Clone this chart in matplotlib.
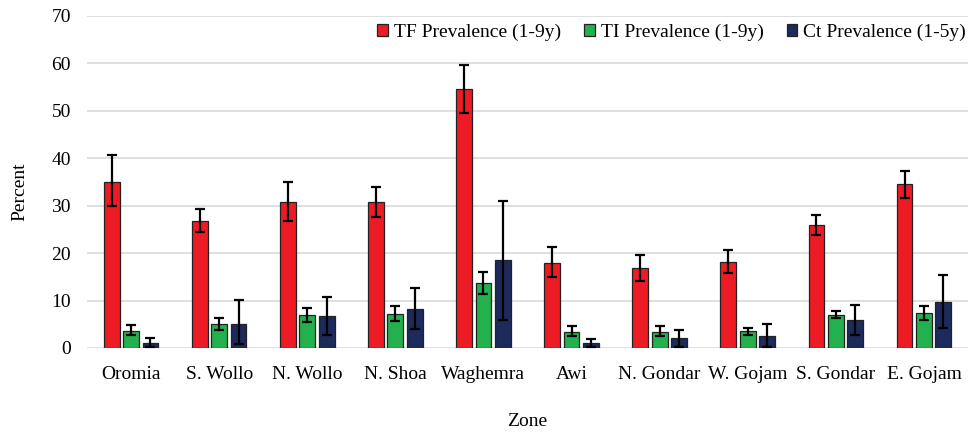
import matplotlib.pyplot as plt
import numpy as np

zones = ["Oromia", "S. Wollo", "N. Wollo", "N. Shoa", "Waghemra",
         "Awi", "N. Gondar", "W. Gojam", "S. Gondar", "E. Gojam"]
series = ["TF Prevalence (1-9y)", "TI Prevalence (1-9y)", "Ct Prevalence (1-5y)"]

tf = [35.0, 26.8, 30.8, 30.7, 54.7, 17.9, 16.8, 18.1, 25.9, 34.5]
tf_lo = [30.0, 24.5, 26.8, 27.6, 49.6, 14.9, 14.2, 15.9, 23.9, 31.6]
tf_hi = [40.6, 29.3, 35.1, 34.0, 59.6, 21.3, 19.7, 20.7, 28.1, 37.4]

ti = [3.65, 5.0, 6.95, 7.2, 13.7, 3.4, 3.4, 3.5, 7.0, 7.4]
ti_lo = [2.8, 3.9, 5.5, 5.6, 11.4, 2.5, 2.5, 2.8, 6.3, 6.0]
ti_hi = [4.9, 6.3, 8.4, 8.9, 16.1, 4.6, 4.6, 4.2, 7.9, 8.9]

ct = [1.05, 5.05, 6.7, 8.3, 18.5, 1.05, 2.1, 2.5, 5.8, 9.8]
ct_lo = [0.3, 0.9, 2.8, 4.1, 6.0, 0.3, 0.3, 0.3, 2.7, 4.3]
ct_hi = [2.1, 10.2, 10.7, 12.7, 30.9, 1.9, 3.9, 5.1, 9.0, 15.4]

colors = ["#ED1C24", "#22B14C", "#1C2A5C"]

plt.rcParams['font.family'] = ['Liberation Serif', 'DejaVu Serif']

fig = plt.figure(figsize=(9.69, 4.33), dpi=100)
ax = fig.add_axes([87 / 969, 1 - 348 / 433, 881 / 969, 332 / 433])

x = np.arange(len(zones))
width = 0.18
offsets = [-0.22, 0.0, 0.22]
for vals, lo, hi, off, col, name in zip([tf, ti, ct], [tf_lo, ti_lo, ct_lo],
                                        [tf_hi, ti_hi, ct_hi], offsets, colors, series):
    vals = np.array(vals)
    yerr = [vals - np.array(lo), np.array(hi) - vals]
    ax.bar(x + off, vals, width, color=col, edgecolor="#222222", linewidth=0.9,
           label=name, zorder=3)
    ax.errorbar(x + off, vals, yerr=yerr, fmt="none", ecolor="black",
                elinewidth=1.6, capsize=3.5, capthick=1.6, zorder=4)

ax.set_xlim(-0.5, len(zones) - 0.5)
ax.set_ylim(0, 70)
ax.set_yticks(range(0, 71, 10))
ax.set_xticks(x)
ax.set_xticklabels(zones, fontsize=14)
ax.tick_params(axis="y", labelsize=14, length=0, pad=11.5)
ax.tick_params(axis="x", length=0, pad=13)
ax.grid(axis="y", color="#D9D9D9", linewidth=1.2, zorder=0)
for s in ax.spines.values():
    s.set_visible(False)

fig.text(20 / 969, 1 - 192 / 433, "Percent", fontsize=14, rotation=90,
         ha="center", va="center")
fig.text(527 / 969, 1 - 422 / 433, "Zone", fontsize=14, ha="center", va="center")

ax.legend(loc="upper right", bbox_to_anchor=(1.0, 0.982), ncol=3, frameon=False,
          fontsize=14, handlelength=0.55, handleheight=0.55, handletextpad=0.3,
          columnspacing=1.2, borderaxespad=0, borderpad=0.1)

fig.savefig("out.png", dpi=100, facecolor="white")
